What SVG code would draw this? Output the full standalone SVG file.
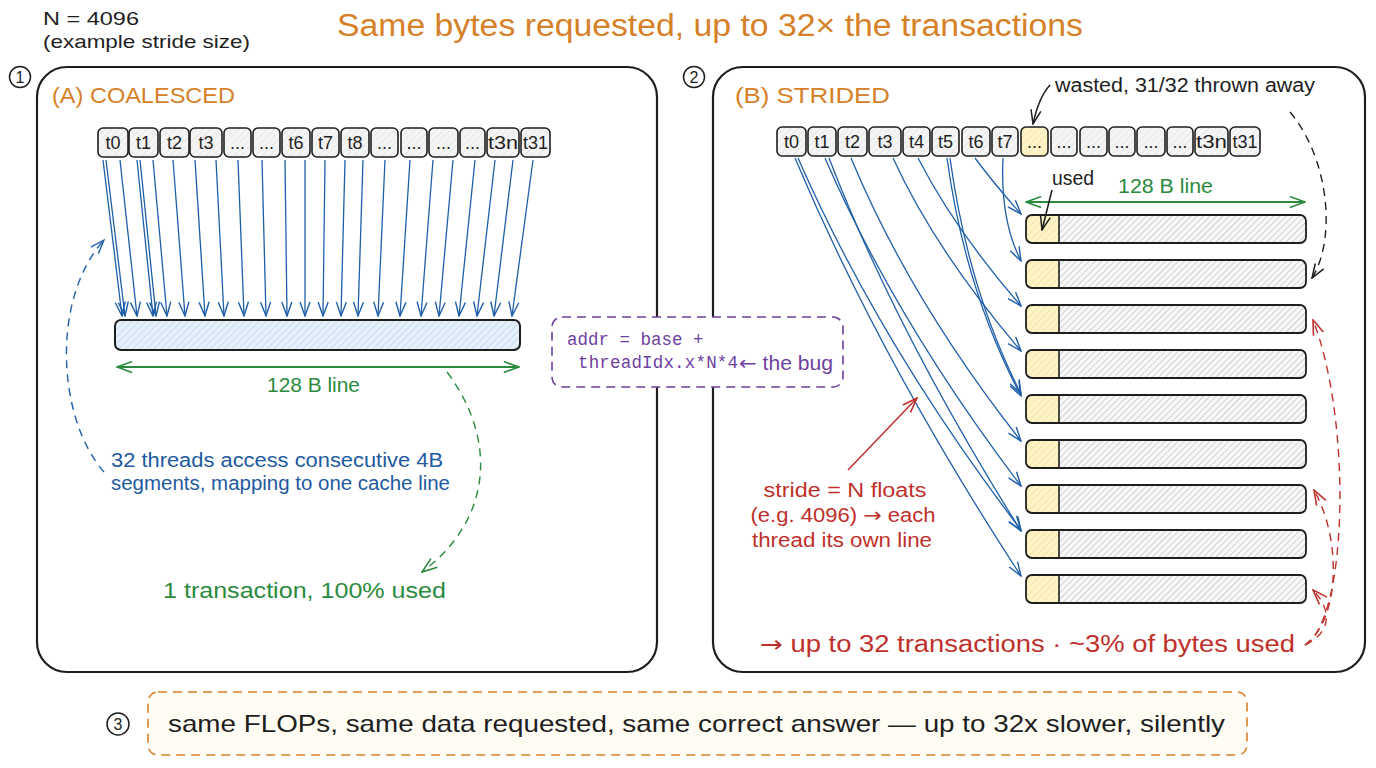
<svg xmlns="http://www.w3.org/2000/svg" width="1376" height="768" viewBox="0 0 1376 768">
<defs>
<style>
.t{font-family:"Liberation Sans","Noto Sans",sans-serif;}
.m{font-family:"Liberation Mono","DejaVu Sans Mono",monospace;}
.ar{font-family:"DejaVu Sans",sans-serif;}
.k{fill:#1e1e1e;}
.or{fill:#d68028;}
.bl{fill:#1e5aa0;}
.gr{fill:#2b8a3e;}
.rd{fill:#c0302b;}
.pu{fill:#6f3fa0;}
.box{fill:url(#hatchGray);stroke:#1e1e1e;stroke-width:1.6;}
.boxY{fill:url(#hatchYellow);stroke:#1e1e1e;stroke-width:1.6;}
.tl{font-family:"Liberation Sans","Noto Sans",sans-serif;font-size:18px;fill:#1e1e1e;text-anchor:middle;}
.panel{fill:#fff;stroke:#1e1e1e;stroke-width:2.2;}
.ab{fill:none;stroke:#1f5fa8;stroke-width:1.3;marker-end:url(#mBlue);}
.circ{fill:#fff;stroke:#1e1e1e;stroke-width:1.5;}
</style>
<pattern id="hatchGray" width="5" height="5" patternUnits="userSpaceOnUse" patternTransform="rotate(45)">
<rect width="5" height="5" fill="#f5f5f5"/>
<line x1="0" y1="0" x2="0" y2="5" stroke="#dcdcdc" stroke-width="1"/>
</pattern>
<pattern id="hatchRow" width="4.5" height="4.5" patternUnits="userSpaceOnUse" patternTransform="rotate(45)">
<rect width="4.5" height="4.5" fill="#f7f7f7"/>
<line x1="0" y1="0" x2="0" y2="4.5" stroke="#a8a8a8" stroke-width="0.9"/>
</pattern>
<pattern id="hatchYellow" width="5" height="5" patternUnits="userSpaceOnUse" patternTransform="rotate(45)">
<rect width="5" height="5" fill="#fff4c8"/>
<line x1="0" y1="0" x2="0" y2="5" stroke="#ecd88a" stroke-width="1"/>
</pattern>
<pattern id="hatchBlue" width="5" height="5" patternUnits="userSpaceOnUse" patternTransform="rotate(45)">
<rect width="5" height="5" fill="#e6f0fa"/>
<line x1="0" y1="0" x2="0" y2="5" stroke="#a9c8e6" stroke-width="1"/>
</pattern>
<marker id="mBlue" viewBox="0 0 16 12" refX="15" refY="6" markerWidth="16" markerHeight="12" markerUnits="userSpaceOnUse" orient="auto"><path d="M1,1 L15,6 L1,11" fill="none" stroke="#1f5fa8" stroke-width="1.4"/></marker>
<marker id="mGreen" viewBox="0 0 16 12" refX="15" refY="6" markerWidth="18" markerHeight="13" markerUnits="userSpaceOnUse" orient="auto-start-reverse"><path d="M1,1 L15,6 L1,11" fill="none" stroke="#2b8a3e" stroke-width="1.5"/></marker>
<marker id="mBlack" viewBox="0 0 16 12" refX="15" refY="6" markerWidth="16" markerHeight="12" markerUnits="userSpaceOnUse" orient="auto"><path d="M1,1 L15,6 L1,11" fill="none" stroke="#1e1e1e" stroke-width="1.5"/></marker>
<marker id="mRed" viewBox="0 0 16 12" refX="15" refY="6" markerWidth="17" markerHeight="13" markerUnits="userSpaceOnUse" orient="auto"><path d="M1,1 L15,6 L1,11" fill="none" stroke="#c0302b" stroke-width="1.5"/></marker>
<marker id="mDBlue" viewBox="0 0 16 12" refX="15" refY="6" markerWidth="16" markerHeight="12" markerUnits="userSpaceOnUse" orient="auto"><path d="M1,1 L15,6 L1,11" fill="none" stroke="#1f5fa8" stroke-width="1.4"/></marker>
<g id="cacheRow">
<rect x="0" y="0" width="280" height="28" rx="6" fill="url(#hatchRow)"/>
<path d="M6,0 H33 V28 H6 A6,6 0 0 1 0,22 V6 A6,6 0 0 1 6,0 Z" fill="url(#hatchYellow)"/>
<line x1="33" y1="0" x2="33" y2="28" stroke="#1e1e1e" stroke-width="1.6"/>
<rect x="0" y="0" width="280" height="28" rx="6" fill="none" stroke="#1e1e1e" stroke-width="1.8"/>
</g>
</defs>

<rect width="1376" height="768" fill="#ffffff"/>

<g id="header">
<text class="t or" x="710" y="36" font-size="31" text-anchor="middle" textLength="746" lengthAdjust="spacingAndGlyphs">Same bytes requested, up to 32× the transactions</text>
<text class="t k" x="43" y="25" font-size="19" textLength="96" lengthAdjust="spacingAndGlyphs">N = 4096</text>
<text class="t k" x="43" y="48" font-size="19" textLength="207" lengthAdjust="spacingAndGlyphs">(example stride size)</text>
</g>

<g id="panel-a">
<rect class="panel" x="37" y="67" width="620" height="605" rx="30"/>
<circle class="circ" cx="20" cy="77" r="10.5"/>
<text class="t k" x="20" y="83" font-size="16" text-anchor="middle">1</text>
<text class="t or" x="52" y="103" font-size="22" textLength="183" lengthAdjust="spacingAndGlyphs">(A) COALESCED</text>
</g>

<g id="panel-b">
<rect class="panel" x="713" y="67" width="652" height="605" rx="30"/>
<circle class="circ" cx="694" cy="77" r="10.5"/>
<text class="t k" x="694" y="83" font-size="16" text-anchor="middle">2</text>
<text class="t or" x="735" y="103" font-size="22" textLength="155" lengthAdjust="spacingAndGlyphs">(B) STRIDED</text>
</g>

<g id="threads-a">
<g id="a-t0"><rect class="box" x="98" y="128" width="30" height="29" rx="5"/><text class="tl" x="113" y="149">t0</text></g>
<g id="a-t1"><rect class="box" x="129" y="128" width="29" height="29" rx="5"/><text class="tl" x="143.5" y="149">t1</text></g>
<g id="a-t2"><rect class="box" x="160" y="128" width="29" height="29" rx="5"/><text class="tl" x="174.5" y="149">t2</text></g>
<g id="a-t3"><rect class="box" x="190" y="128" width="32" height="29" rx="5"/><text class="tl" x="206" y="149">t3</text></g>
<g id="a-d1"><rect class="box" x="224" y="128" width="27" height="29" rx="5"/><text class="tl" x="237.5" y="149">...</text></g>
<g id="a-d2"><rect class="box" x="253" y="128" width="27" height="29" rx="5"/><text class="tl" x="266.5" y="149">...</text></g>
<g id="a-t6"><rect class="box" x="282" y="128" width="28" height="29" rx="5"/><text class="tl" x="296" y="149">t6</text></g>
<g id="a-t7"><rect class="box" x="312" y="128" width="27" height="29" rx="5"/><text class="tl" x="325.5" y="149">t7</text></g>
<g id="a-t8"><rect class="box" x="341" y="128" width="28" height="29" rx="5"/><text class="tl" x="355" y="149">t8</text></g>
<g id="a-d3"><rect class="box" x="371" y="128" width="27" height="29" rx="5"/><text class="tl" x="384.5" y="149">...</text></g>
<g id="a-d4"><rect class="box" x="401" y="128" width="26" height="29" rx="5"/><text class="tl" x="414" y="149">...</text></g>
<g id="a-d5"><rect class="box" x="429" y="128" width="29" height="29" rx="5"/><text class="tl" x="443.5" y="149">...</text></g>
<g id="a-d6"><rect class="box" x="460" y="128" width="25" height="29" rx="5"/><text class="tl" x="472.5" y="149">...</text></g>
<g id="a-t3n"><rect class="box" x="487" y="128" width="32" height="29" rx="5"/><text class="tl" x="503" y="149" textLength="30" lengthAdjust="spacingAndGlyphs">t3n</text></g>
<g id="a-t31"><rect class="box" x="521" y="128" width="29" height="29" rx="5"/><text class="tl" x="535.5" y="149">t31</text></g>
</g>

<g id="line-a">
<rect x="115" y="320" width="405" height="30" rx="6" fill="url(#hatchBlue)" stroke="#1e1e1e" stroke-width="2"/>
</g>

<g id="label-a">
<text class="t gr" x="267" y="392" font-size="20" textLength="93" lengthAdjust="spacingAndGlyphs">128 B line</text>
<text class="t bl" x="111" y="467" font-size="20" textLength="332" lengthAdjust="spacingAndGlyphs">32 threads access consecutive 4B</text>
<text class="t bl" x="111" y="490" font-size="20" textLength="339" lengthAdjust="spacingAndGlyphs">segments, mapping to one cache line</text>
<text class="t gr" x="163" y="598" font-size="22" textLength="283" lengthAdjust="spacingAndGlyphs">1 transaction, 100% used</text>
</g>

<g id="threads-b">
<g id="b-t0"><rect class="box" x="777" y="127" width="29" height="29" rx="5"/><text class="tl" x="791.5" y="148">t0</text></g>
<g id="b-t1"><rect class="box" x="808" y="127" width="28" height="29" rx="5"/><text class="tl" x="822" y="148">t1</text></g>
<g id="b-t2"><rect class="box" x="838" y="127" width="29" height="29" rx="5"/><text class="tl" x="852.5" y="148">t2</text></g>
<g id="b-t3"><rect class="box" x="869" y="127" width="32" height="29" rx="5"/><text class="tl" x="885" y="148">t3</text></g>
<g id="b-t4"><rect class="box" x="903" y="127" width="27" height="29" rx="5"/><text class="tl" x="916.5" y="148">t4</text></g>
<g id="b-t5"><rect class="box" x="932" y="127" width="27" height="29" rx="5"/><text class="tl" x="945.5" y="148">t5</text></g>
<g id="b-t6"><rect class="box" x="962" y="127" width="28" height="29" rx="5"/><text class="tl" x="976" y="148">t6</text></g>
<g id="b-t7"><rect class="box" x="992" y="127" width="26" height="29" rx="5"/><text class="tl" x="1005" y="148">t7</text></g>
<g id="b-d1"><rect class="boxY" x="1021" y="127" width="27" height="29" rx="5"/><text class="tl" x="1034.5" y="148">...</text></g>
<g id="b-d2"><rect class="box" x="1051" y="127" width="26" height="29" rx="5"/><text class="tl" x="1064" y="148">...</text></g>
<g id="b-d3"><rect class="box" x="1080" y="127" width="27" height="29" rx="5"/><text class="tl" x="1093.5" y="148">...</text></g>
<g id="b-d4"><rect class="box" x="1109" y="127" width="26" height="29" rx="5"/><text class="tl" x="1122" y="148">...</text></g>
<g id="b-d5"><rect class="box" x="1137" y="127" width="28" height="29" rx="5"/><text class="tl" x="1151" y="148">...</text></g>
<g id="b-d6"><rect class="box" x="1167" y="127" width="26" height="29" rx="5"/><text class="tl" x="1180" y="148">...</text></g>
<g id="b-t3n"><rect class="box" x="1195" y="127" width="33" height="29" rx="5"/><text class="tl" x="1211.5" y="148" textLength="31" lengthAdjust="spacingAndGlyphs">t3n</text></g>
<g id="b-t31"><rect class="box" x="1230" y="127" width="30" height="29" rx="5"/><text class="tl" x="1245" y="148">t31</text></g>
</g>

<g id="rows-b">
<g id="row1"><use href="#cacheRow" x="1026" y="215"/></g>
<g id="row2"><use href="#cacheRow" x="1026" y="260"/></g>
<g id="row3"><use href="#cacheRow" x="1026" y="305"/></g>
<g id="row4"><use href="#cacheRow" x="1026" y="350"/></g>
<g id="row5"><use href="#cacheRow" x="1026" y="395"/></g>
<g id="row6"><use href="#cacheRow" x="1026" y="440"/></g>
<g id="row7"><use href="#cacheRow" x="1026" y="485"/></g>
<g id="row8"><use href="#cacheRow" x="1026" y="530"/></g>
<g id="row9"><use href="#cacheRow" x="1026" y="575"/></g>
</g>

<g id="labels-b">
<text class="t k" x="1055" y="92" font-size="20" textLength="260" lengthAdjust="spacingAndGlyphs">wasted, 31/32 thrown away</text>
<text class="t k" x="1052" y="185" font-size="20" textLength="42" lengthAdjust="spacingAndGlyphs">used</text>
<text class="t gr" x="1118" y="193" font-size="20" textLength="95" lengthAdjust="spacingAndGlyphs">128 B line</text>
<text class="t rd" x="845" y="497" font-size="20" text-anchor="middle" textLength="163" lengthAdjust="spacingAndGlyphs">stride = N floats</text>
<text class="t rd" x="843" y="522" font-size="20" text-anchor="middle" textLength="185" lengthAdjust="spacingAndGlyphs">(e.g. 4096) <tspan class="ar">→</tspan> each</text>
<text class="t rd" x="842" y="547" font-size="20" text-anchor="middle" textLength="180" lengthAdjust="spacingAndGlyphs">thread its own line</text>
<text class="t rd" x="760" y="652" font-size="23" textLength="535" lengthAdjust="spacingAndGlyphs"><tspan class="ar">→</tspan> up to 32 transactions · ~3% of bytes used</text>
</g>

<g id="connectors">
<path class="ab" d="M103,160 L122,316"/>
<path class="ab" d="M106,160 L125,316"/>
<path class="ab" d="M120,160 L137,316"/>
<path class="ab" d="M137,160 L153,316"/>
<path class="ab" d="M140,160 L156,316"/>
<path class="ab" d="M153,160 L167,316"/>
<path class="ab" d="M173,160 L185,316"/>
<path class="ab" d="M195,160 L205,316"/>
<path class="ab" d="M216,160 L224,316"/>
<path class="ab" d="M238,160 L244,316"/>
<path class="ab" d="M262,160 L266,316"/>
<path class="ab" d="M285,160 L287,316"/>
<path class="ab" d="M305,160 L305,316"/>
<path class="ab" d="M325,160 L323,316"/>
<path class="ab" d="M345,160 L341,316"/>
<path class="ab" d="M363,160 L358,316"/>
<path class="ab" d="M385,160 L378,316"/>
<path class="ab" d="M410,160 L400,316"/>
<path class="ab" d="M433,160 L421,316"/>
<path class="ab" d="M453,160 L439,316"/>
<path class="ab" d="M475,160 L459,316"/>
<path class="ab" d="M495,160 L477,316"/>
<path class="ab" d="M513,160 L494,316"/>
<path class="ab" d="M533,160 L512,316"/>

<line x1="117" y1="367" x2="519" y2="367" stroke="#2b8a3e" stroke-width="1.8" marker-start="url(#mGreen)" marker-end="url(#mGreen)"/>
<line x1="1026" y1="202" x2="1305" y2="202" stroke="#2b8a3e" stroke-width="1.8" marker-start="url(#mGreen)" marker-end="url(#mGreen)"/>

<path d="M104,472 C58,420 50,300 104,240" fill="none" stroke="#1f5fa8" stroke-width="1.4" stroke-dasharray="8 6" marker-end="url(#mDBlue)"/>
<path d="M447,372 C498,440 492,520 422,572" fill="none" stroke="#2b8a3e" stroke-width="1.4" stroke-dasharray="8 6" marker-end="url(#mGreen)"/>

<path class="ab" d="M975,158 Q995,185 1021,214"/>
<path class="ab" d="M1003,158 Q1000,220 1021,261"/>
<path class="ab" d="M918,158 Q955,230 1021,306"/>
<path class="ab" d="M893,158 Q935,250 1021,351"/>
<path class="ab" d="M947,158 Q965,290 1021,396"/>
<path class="ab" d="M950,158 Q968,290 1021,394"/>
<path class="ab" d="M851,158 Q910,300 1021,441"/>
<path class="ab" d="M825,158 Q895,320 1021,486"/>
<path class="ab" d="M829,158 Q895,330 1021,531"/>
<path class="ab" d="M795,158 Q880,360 1021,576"/>
<path class="ab" d="M798,158 Q880,345 1021,530"/>

<path d="M1050,85 C1040,96 1036,110 1033,124" fill="none" stroke="#1e1e1e" stroke-width="1.5" marker-end="url(#mBlack)"/>
<path d="M1052,190 L1042,230" fill="none" stroke="#1e1e1e" stroke-width="1.5" marker-end="url(#mBlack)"/>
<path d="M1290,112 C1330,160 1336,240 1312,278" fill="none" stroke="#1e1e1e" stroke-width="1.4" stroke-dasharray="8 6" marker-end="url(#mBlack)"/>

<path d="M848,470 L917,398" fill="none" stroke="#c0302b" stroke-width="1.5" marker-end="url(#mRed)"/>
<path d="M1305,645 C1348,620 1352,420 1313,320" fill="none" stroke="#c0302b" stroke-width="1.4" stroke-dasharray="8 6" marker-end="url(#mRed)"/>
<path d="M1305,645 C1340,620 1342,540 1314,490" fill="none" stroke="#c0302b" stroke-width="1.4" stroke-dasharray="8 6" marker-end="url(#mRed)"/>
<path d="M1305,645 C1332,632 1332,610 1313,590" fill="none" stroke="#c0302b" stroke-width="1.4" stroke-dasharray="8 6" marker-end="url(#mRed)"/>
</g>

<g id="code-note">
<rect x="552" y="317" width="291" height="70" rx="10" fill="#ffffff" stroke="#6f3fa0" stroke-width="1.6" stroke-dasharray="9 6"/>
<text class="m pu" x="567" y="345" font-size="17.5">addr = base +</text>
<text class="m pu" x="578" y="368" font-size="17.5" textLength="160">threadIdx.x*N*4</text>
<text class="t pu" x="739" y="370" font-size="20" textLength="94" lengthAdjust="spacingAndGlyphs"><tspan class="ar">←</tspan> the bug</text>
</g>

<g id="summary">
<circle class="circ" cx="118" cy="724" r="11"/>
<text class="t k" x="118" y="730" font-size="16" text-anchor="middle">3</text>
<rect x="148" y="692" width="1099" height="63" rx="10" fill="#fffcf4" stroke="#d68028" stroke-width="1.6" stroke-dasharray="9 6"/>
<text class="t k" x="168" y="732" font-size="24" textLength="1057" lengthAdjust="spacingAndGlyphs">same FLOPs, same data requested, same correct answer — up to 32x slower, silently</text>
</g>
</svg>
